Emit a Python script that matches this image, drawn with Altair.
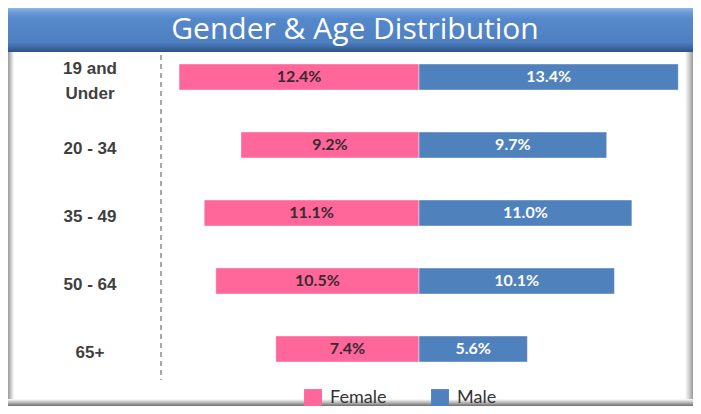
import altair as alt
import pandas as pd

# ---- data ----
ages = ["19 and\nUnder", "20 - 34", "35 - 49", "50 - 64", "65+"]
female = [12.4, 9.2, 11.1, 10.5, 7.4]
male = [13.4, 9.7, 11.0, 10.1, 5.6]
sexes = ["Female", "Male"]
colors = ["#ff6699", "#4f81bd"]
title_text = "Gender & Age Distribution"

rows = []
for a, f, m in zip(ages, female, male):
    rows.append({"age": a, "sex": "Female", "start": -f, "end": 0, "mid": -f / 2, "label": f"{f:.1f}%"})
    rows.append({"age": a, "sex": "Male", "start": 0, "end": m, "mid": m / 2, "label": f"{m:.1f}%"})
df = pd.DataFrame(rows)

W, H = 685, 398
cx = 411          # centre line (page x 419)
ppu = 19.35       # pixels per percent

xscale = alt.Scale(domain=[-15, 15], range=[cx - 15 * ppu, cx + 15 * ppu], nice=False, zero=False)
yscale = alt.Scale(domain=ages, range=[35, 375], paddingInner=0.618, paddingOuter=0.309)

one = alt.Data(values=[{"a": 1}])


def lin(stops, horizontal=False):
    return alt.Gradient(
        gradient="linear",
        stops=[alt.GradientStop(color=c, offset=o) for o, c in stops],
        x1=0, y1=0, x2=1 if horizontal else 0, y2=0 if horizontal else 1,
    )


frame = alt.Chart(one).mark_rect(fill="white").encode(
    x=alt.value(0), x2=alt.value(W), y=alt.value(40), y2=alt.value(H)
)
left_edge = alt.Chart(one).mark_rect(
    color=lin([(0, "#9a9a9a"), (0.5, "#c8c8c8"), (1, "#ffffff")], horizontal=True)
).encode(x=alt.value(0), x2=alt.value(6), y=alt.value(44), y2=alt.value(H))
right_edge = alt.Chart(one).mark_rect(
    color=lin([(0, "#ffffff"), (0.5, "#d0d0d0"), (1, "#9a9a9a")], horizontal=True)
).encode(x=alt.value(W - 8), x2=alt.value(W), y=alt.value(44), y2=alt.value(H))
bottom_edge = alt.Chart(one).mark_rect(
    color=lin([(0, "#ffffff"), (0.4, "#c8c8c8"), (1, "#6e6e6e")])
).encode(x=alt.value(0), x2=alt.value(W), y=alt.value(H - 7), y2=alt.value(H))

grad = lin([
    (0, "#8fb5e6"), (0.1, "#6a9bd8"), (0.25, "#5588ca"),
    (0.78, "#4f80c1"), (0.9, "#3c68a4"), (1, "#2c5286"),
])
title_bar = alt.Chart(one).mark_rect(color=grad).encode(
    x=alt.value(0), x2=alt.value(W), y=alt.value(0), y2=alt.value(44)
)
title = alt.Chart(one).mark_text(
    text=title_text, font="Open Sans", fontSize=30, fontWeight=500, color="white",
    align="center", baseline="middle",
).encode(x=alt.value(347), y=alt.value(22))

divider = alt.Chart(one).mark_rule(color="#8c8c8c", strokeWidth=1.5, strokeDash=[5, 4]).encode(
    x=alt.value(153), y=alt.value(47), y2=alt.value(372)
)

base = alt.Chart(df)

bars = base.mark_bar(stroke="#ffffff", strokeOpacity=0.5, strokeWidth=0.8).encode(
    x=alt.X("start:Q", scale=xscale, axis=None),
    x2="end:Q",
    y=alt.Y("age:N", scale=yscale, axis=None, sort=ages),
    color=alt.Color(
        "sex:N",
        scale=alt.Scale(domain=sexes, range=colors),
        legend=alt.Legend(
            orient="none", legendX=296, legendY=381, direction="horizontal", title=None,
            symbolType="square", symbolSize=320, symbolStrokeWidth=0, symbolOpacity=1,
            labelFont="Lato", labelFontSize=18, labelColor="#333333", labelOffset=8,
            columnPadding=44,
        ),
    ),
)

labels = base.mark_text(font="Lato", fontSize=16, fontWeight="bold", baseline="middle").encode(
    x=alt.X("mid:Q", scale=xscale),
    y=alt.Y("age:N", scale=yscale, sort=ages),
    text="label:N",
    color=alt.Color("sex:N", scale=alt.Scale(domain=sexes, range=["#3a2a30", "#ffffff"]), legend=None),
)

age_df = pd.DataFrame({"age": ages})
age_style = dict(
    font="Liberation Sans", fontSize=17, fontWeight="bold", color="#3f3f3f",
    lineBreak="\n", lineHeight=25, align="center", baseline="middle",
)
age_single = alt.Chart(age_df).transform_filter(
    "indexof(datum.age, '\\n') < 0"
).mark_text(dy=4, **age_style).encode(
    x=alt.value(82), y=alt.Y("age:N", scale=yscale, sort=ages), text="age:N"
)
age_multi = alt.Chart(age_df).transform_filter(
    "indexof(datum.age, '\\n') >= 0"
).mark_text(dy=-8, **age_style).encode(
    x=alt.value(82), y=alt.Y("age:N", scale=yscale, sort=ages), text="age:N"
)

chart = alt.layer(
    frame, left_edge, right_edge, bottom_edge, title_bar, title, divider,
    bars, labels, age_single, age_multi,
).resolve_scale(color="independent").properties(
    width=W, height=H, padding=0, autosize=alt.AutoSizeParams(type="none")
).configure_view(stroke=None)

chart.save("out.html", embed_options={"renderer": "svg", "actions": False})
